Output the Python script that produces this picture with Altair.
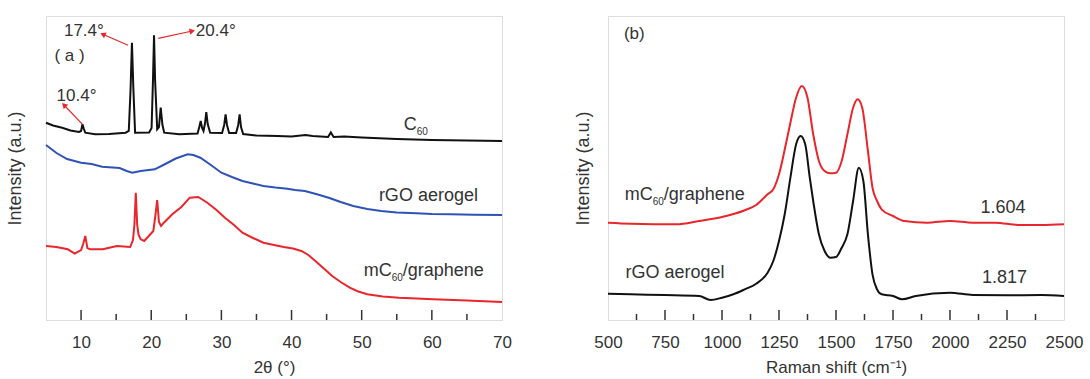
import altair as alt
import pandas as pd

FONT = "Liberation Sans"
TXT = "#333333"
W, H = 456, 304

# ---------------- (a) XRD ----------------
c60_x = [5, 6, 7.3, 8.5, 9.7, 10.0, 10.2, 10.4, 10.6, 12, 14, 16.35, 16.8, 17.05, 17.25, 17.45, 17.7,
         19.7, 20.05, 20.25, 20.4, 20.55, 20.85, 21.1, 21.35, 21.6, 21.85, 24, 26.6, 26.85, 27.05,
         27.25, 27.45, 27.65, 27.85, 28.05, 28.4, 30.1, 30.4, 30.6, 30.8, 31.1, 32.1, 32.4, 32.6,
         32.8, 33.1, 35, 38, 40, 42, 43, 45.2, 45.6, 46, 47.5, 50, 55, 60, 65, 70]
c60_v = [197.3, 194.5, 192.3, 189.5, 188, 189, 195.7, 191, 187.3, 185.7, 186, 187.3, 189, 230, 277.3,
         232, 187.3, 187.5, 192, 240, 284.7, 240, 190.7, 193, 212.3, 195, 187.3, 185.7, 186.5, 193,
         199, 192, 189, 196, 208, 196, 187.3, 187, 195, 205.7, 195, 187, 187, 195, 205.7, 193, 186,
         184.5, 184, 183.5, 185, 184, 183, 187.5, 183, 183.5, 182.5, 181, 180, 179.5, 179]

rgo_x = [5, 6.5, 8, 10, 11.5, 13, 14.5, 15.5, 16.5, 17.3, 18.5, 20.5, 22, 23.5, 25.2, 26, 27, 28.5,
         30, 31.5, 33, 34.5, 36, 37.7, 39.4, 40.5, 41.9, 43.5, 45.3, 47, 48.8, 50.8, 52.8, 55, 57.8,
         60, 62.7, 66, 70]
rgo_v = [175, 167, 161, 157.3, 156, 153.3, 152.5, 152, 149, 147.3, 149, 150.7, 156, 161.5, 165.7,
         165, 162.3, 155, 147.3, 143, 139, 136.5, 134, 132.5, 131.3, 130, 129, 126, 122.3, 118, 114,
         111, 109, 107.5, 106.7, 106, 105.7, 105.3, 105]

mc60_x = [5, 6.5, 8.1, 9.1, 10.0, 10.3, 10.6, 10.9, 11.3, 13.1, 15.1, 17.0, 17.4, 17.6, 17.8, 18.0,
          18.2, 18.5, 19.0, 20.3, 20.6, 20.85, 21.1, 21.4, 21.8, 23, 24.3, 25.5, 26.7, 28, 29.3, 30.5,
          31.8, 33, 34.5, 36, 37.5, 38.9, 40.2, 41.4, 42.4, 43.4, 44.6, 45.8, 47, 48.3, 49.5, 50.8,
          53, 55.3, 57.8, 60.2, 65, 70]
mc60_v = [74, 73, 70.7, 66.3, 70, 76, 84, 72, 70.7, 70.7, 74, 73, 80, 95, 127.3, 95, 85, 80.7, 79, 89,
          105, 120, 98, 94, 97.3, 105.7, 113, 122.3, 123, 117.3, 110, 102.3, 95, 87.3, 82, 77.3, 75,
          73, 71.5, 69, 65, 59, 51.5, 44, 38, 32.3, 28.5, 25.7, 23.5, 22.3, 21.5, 20.7, 19.5, 18]

xrd_labels = [10, 20, 30, 40, 50, 60, 70]
xrd_major = [10, 20, 30, 40, 50, 60]
xrd_minor = [15, 25, 35, 45, 55, 65]

# ---------------- (b) Raman ----------------
ram_mc_x = [500, 600, 800, 900, 1000, 1100, 1150, 1200, 1225, 1250, 1280, 1300, 1325, 1350, 1375,
            1400, 1425, 1450, 1475, 1500, 1525, 1550, 1575, 1595, 1615, 1640, 1660, 1680, 1700,
            1750, 1800, 1900, 2000, 2100, 2200, 2300, 2400, 2500]
ram_mc_v = [97.3, 96.3, 95.7, 99, 103, 109.7, 115, 125.7, 130.7, 145.7, 175.7, 197.3, 222.3, 234,
            222.3, 185.7, 159, 149, 146.7, 147.3, 159, 185.7, 212.3, 220.7, 212.3, 169, 132.3, 119,
            110.7, 104, 99, 97.3, 99, 97.3, 97.3, 95, 95, 95.7]

ram_rgo_x = [500, 600, 750, 900, 950, 1000, 1050, 1100, 1150, 1200, 1225, 1250, 1275, 1300, 1325,
             1345, 1365, 1385, 1400, 1425, 1450, 1475, 1500, 1525, 1550, 1575, 1600, 1620, 1640,
             1660, 1680, 1700, 1750, 1790, 1850, 2000, 2100, 2250, 2400, 2500]
ram_rgo_v = [26.3, 25.7, 25, 24, 20, 22.3, 25.7, 30.7, 36.3, 47.3, 59, 79, 105.7, 142.3, 175.7, 184,
             175.7, 142.3, 119, 85.7, 69, 62.3, 63, 72.3, 85.7, 119, 152.3, 139, 85.7, 45.7, 30.7,
             25.7, 24, 20.7, 24, 27.3, 25, 24.7, 25, 24]

ram_labels = [500, 750, 1000, 1250, 1500, 1750, 2000, 2250, 2500]
ram_major = [750, 1000, 1250, 1500, 1750, 2000, 2250]
ram_minor = [625, 875, 1125, 1375, 1625, 1875, 2125, 2375]

# annotations (a)
peak_labels = ["17.4°", "20.4°", "10.4°"]
peak_label_x = [10.4, 29.2, 9.35]
peak_label_v = [289, 289, 224]
arrow_tail_x = [16.7, 21.0, 10.2]
arrow_tail_v = [274.7, 281.7, 195.7]
arrow_tip_x = [13.1, 25.85, 7.57]
arrow_tip_v = [285.7, 289, 215]
arrow_angle = [294, 78, 316]


def panel(xdom, series, colors, labels, major, minor, title_x, tpad, texts, interp):
    X = alt.X("x:Q", scale=alt.Scale(domain=xdom, nice=False, zero=False, padding=0),
              axis=alt.Axis(title=title_x, grid=False, domain=False, ticks=False, tickSize=0,
                            values=labels, format="d", labelFlush=False, labelOverlap=False,
                            labelFontSize=17, labelFont=FONT, labelColor=TXT, labelPadding=14,
                            titleFontSize=17, titleFont=FONT, titleColor=TXT,
                            titleFontWeight="normal", titlePadding=9))
    Y = alt.Y("v:Q", scale=alt.Scale(domain=[0, H], nice=False, zero=False, padding=0),
              axis=alt.Axis(title="Intensity (a.u.)", labels=False, ticks=False, tickSize=0,
                            domain=False, grid=False, titleFontSize=18, titleFont=FONT,
                            titleColor=TXT, titleFontWeight="normal", titlePadding=tpad))
    rows = []
    for name, xs, vs in series:
        for a, b in zip(xs, vs):
            rows.append({"x": a, "v": b, "s": name})
    lines = alt.Chart(pd.DataFrame(rows)).mark_line(strokeWidth=2, interpolate=interp).encode(
        x=X, y=Y,
        color=alt.Color("s:N", scale=alt.Scale(domain=[s[0] for s in series], range=colors),
                        legend=None))
    ticks_major = alt.Chart(pd.DataFrame({"x": major})).mark_rule(
        color="#333", strokeWidth=1.5).encode(x=X, y=alt.value(H), y2=alt.value(H - 10))
    ticks_minor = alt.Chart(pd.DataFrame({"x": minor})).mark_rule(
        color="#333", strokeWidth=1.5).encode(x=X, y=alt.value(H), y2=alt.value(H - 6))
    layers = [lines, ticks_major, ticks_minor]
    for (t, x, v, size, align, dx, dy, col) in texts:
        d = pd.DataFrame({"x": [x], "v": [v], "t": [t]})
        layers.append(alt.Chart(d).mark_text(align=align, baseline="middle", fontSize=size,
                                             font=FONT, color=col, dx=dx, dy=dy).encode(
            x=X, y=Y, text="t:N"))
    return layers, X, Y


# ---- panel a
texts_a = [
    ("( a )", 8.35, 264, 17, "center", 0, 0, TXT),
    ("C", 56.0, 195.5, 18, "left", 0, 0, TXT),
    ("60", 56.0, 195.5, 10, "left", 13, 7, TXT),
    ("rGO aerogel", 52.45, 124, 18, "left", 0, 0, TXT),
    ("mC", 50.3, 49, 18, "left", 0, 0, TXT),
    ("60", 50.3, 49, 10, "left", 28, 7, TXT),
    ("/graphene", 50.3, 49, 18, "left", 39, 0, TXT),
]
for t, x, v in zip(peak_labels, peak_label_x, peak_label_v):
    texts_a.append((t, x, v, 17, "center", 0, 0, TXT))

layers_a, Xa, Ya = panel([5, 70],
                         [("C60", c60_x, c60_v), ("rGO", rgo_x, rgo_v), ("mC60", mc60_x, mc60_v)],
                         ["#111111", "#2f52b5", "#e8262b"], xrd_labels, xrd_major, xrd_minor,
                         "2θ (°)", 22, texts_a, "linear")

arr = pd.DataFrame({"x": arrow_tail_x, "v": arrow_tail_v, "x2": arrow_tip_x, "v2": arrow_tip_v})
arrow_lines = alt.Chart(arr).mark_rule(color="#e8262b", strokeWidth=1.2).encode(
    x=Xa, y=Ya, x2="x2:Q", y2="v2:Q")
tips = pd.DataFrame({"x": arrow_tip_x, "v": arrow_tip_v, "ang": arrow_angle})
heads = alt.Chart(tips).mark_point(shape="triangle-up", filled=True, color="#e8262b", size=40,
                                   opacity=1).encode(
    x=Xa, y=Ya, angle=alt.Angle("ang:Q", scale=None))
chart_a = alt.layer(*layers_a, arrow_lines, heads).properties(width=W, height=H)

# ---- panel b
texts_b = [
    ("(b)", 570, 285.7, 17, "left", 0, 0, TXT),
    ("mC", 573, 125.5, 18, "left", 0, 0, TXT),
    ("60", 573, 125.5, 10, "left", 28, 7, TXT),
    ("/graphene", 573, 125.5, 18, "left", 39, 0, TXT),
    ("rGO aerogel", 577, 47, 18, "left", 0, 0, TXT),
    ("1.604", 2232, 112.3, 18, "center", 0, 0, TXT),
    ("1.817", 2239, 42.3, 18, "center", 0, 0, TXT),
]
layers_b, Xb, Yb = panel([500, 2500],
                         [("mC60 Raman", ram_mc_x, ram_mc_v), ("rGO Raman", ram_rgo_x, ram_rgo_v)],
                         ["#e8262b", "#111111"], ram_labels, ram_major, ram_minor,
                         "Raman shift (cm⁻¹)", 16, texts_b, "monotone")
chart_b = alt.layer(*layers_b).properties(width=W, height=H)

chart = alt.hconcat(chart_a, chart_b, spacing=106, bounds="flush").resolve_scale(
    color="independent"
).properties(
    padding={"left": 5, "top": 15, "right": 5, "bottom": 0}
).configure_view(stroke="#333333", strokeWidth=2).configure(background="white")

chart.save("out.html", embed_options={"renderer": "svg", "actions": False})
